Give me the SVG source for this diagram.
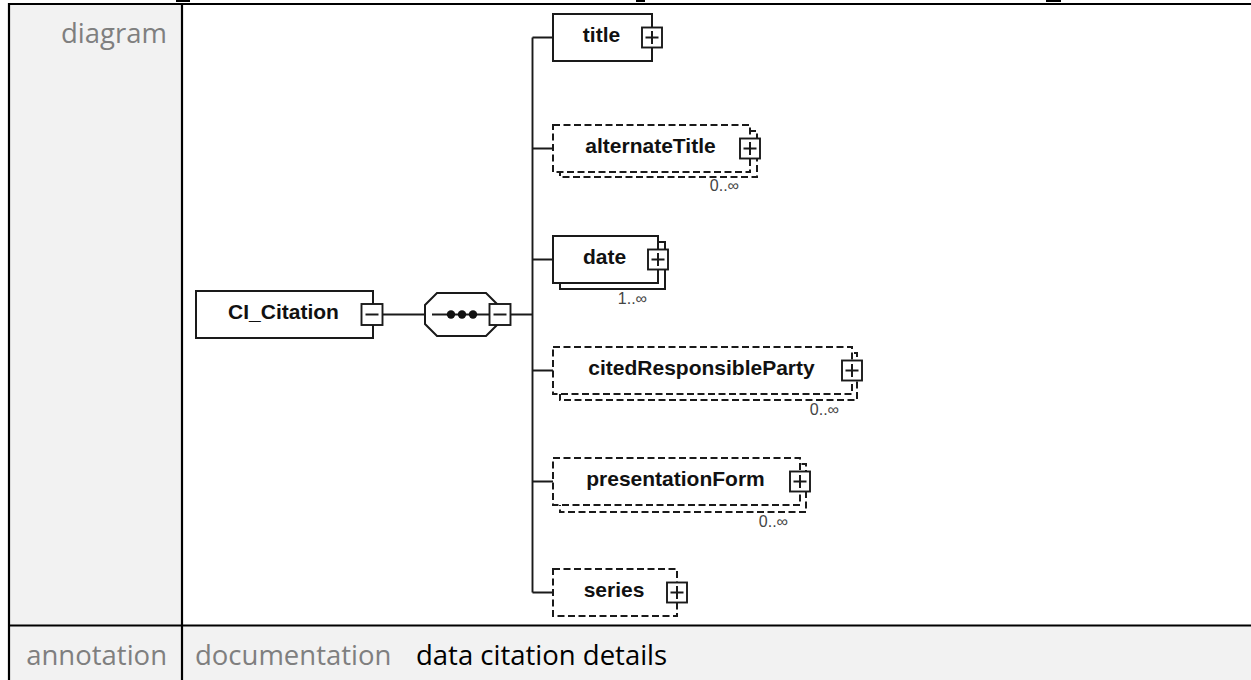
<svg xmlns="http://www.w3.org/2000/svg" width="1251" height="680" viewBox="0 0 1251 680">
<style>
.cell{fill:#f2f2f2}
.grid{stroke:#000;stroke-width:2.2;fill:none}
.hdr{font-family:"Open Sans","Noto Sans",sans-serif;font-size:27.5px;fill:#7f7f7f}
.val{font-family:"Open Sans","Noto Sans",sans-serif;font-size:27.5px;fill:#000}
.box{fill:#fff;stroke:#1a1a1a;stroke-width:2}
.dash{stroke-dasharray:7,3.5}
.lbl{font-family:"Liberation Sans",Arial,sans-serif;font-weight:bold;font-size:21px;fill:#111;text-anchor:middle}
.occ{font-family:"Liberation Sans",Arial,sans-serif;font-size:16px;fill:#444;text-anchor:end}
.btn{fill:#fff;stroke:#1a1a1a;stroke-width:1.9}
.sign{stroke:#1a1a1a;stroke-width:2;fill:none}
.con{stroke:#1a1a1a;stroke-width:1.9;fill:none}
</style>
<defs>
<g id="plus"><rect class="btn" x="-10" y="-10" width="20" height="20"/><path class="sign" d="M-6.5 0H6.5M0 -6.5V6.5"/></g>
<g id="minus"><rect class="btn" x="-10.5" y="-10.5" width="21" height="21"/><path class="sign" d="M-6.5 0H6.5"/></g>
</defs>
<rect width="1251" height="680" fill="#fff"/>
<g id="table">
<rect class="cell" x="9" y="5" width="173" height="620"/>
<rect class="cell" x="9" y="626" width="1242" height="54"/>
<path class="grid" d="M8 4H1251M9 3V680M182 4V680M8 625.5H1251"/>
<rect x="176" y="0" width="14" height="2" fill="#000"/>
<rect x="636" y="0" width="9" height="2" fill="#000"/>
<rect x="1046" y="0" width="15" height="2" fill="#000"/>
<text class="hdr" x="167" y="43" text-anchor="end">diagram</text>
<text class="hdr" x="167" y="665" text-anchor="end">annotation</text>
<text class="hdr" x="195" y="665">documentation</text>
<text class="val" x="416" y="665">data citation details</text>
</g>
<g id="connectors">
<path class="con" d="M383 314.5H425M511 314.5H532.5M532.5 37.5V592.5"/>
<path class="con" d="M532.5 37.5H553M532.5 148.5H553M532.5 259.5H553M532.5 370.5H553M532.5 481.5H553M532.5 592.5H553"/>
</g>
<g id="CI_Citation">
<rect class="box" x="196" y="291" width="177" height="47"/>
<text class="lbl" x="283.5" y="319">CI_Citation</text>
<use href="#minus" x="372" y="314.5"/>
</g>
<g id="sequence">
<polygon class="box" points="425,305 437,293 486,293 498,305 498,324 486,336 437,336 425,324"/>
<path class="con" d="M432 314.5H490"/>
<circle cx="451" cy="314.5" r="4.2" fill="#111"/>
<circle cx="462" cy="314.5" r="4.2" fill="#111"/>
<circle cx="473" cy="314.5" r="4.2" fill="#111"/>
<use href="#minus" x="500" y="314.5"/>
</g>
<g id="title">
<rect class="box" x="553" y="14" width="99" height="47"/>
<text class="lbl" x="601.5" y="42">title</text>
<use href="#plus" x="652" y="37.5"/>
</g>
<g id="alternateTitle">
<rect class="box dash" x="560" y="131" width="197" height="46"/>
<rect class="box dash" x="553" y="125" width="197" height="47"/>
<text class="lbl" x="650.5" y="153">alternateTitle</text>
<use href="#plus" x="750" y="148.5"/>
<text class="occ" x="739" y="191">0..∞</text>
</g>
<g id="date">
<rect class="box" x="560" y="242" width="105" height="47"/>
<rect class="box" x="553" y="236" width="105" height="47"/>
<text class="lbl" x="604.5" y="264">date</text>
<use href="#plus" x="658" y="259.5"/>
<text class="occ" x="647" y="304">1..∞</text>
</g>
<g id="citedResponsibleParty">
<rect class="box dash" x="560" y="353" width="297" height="47"/>
<rect class="box dash" x="553" y="347" width="299" height="47"/>
<text class="lbl" x="701.5" y="375">citedResponsibleParty</text>
<use href="#plus" x="852" y="370.5"/>
<text class="occ" x="839" y="415">0..∞</text>
</g>
<g id="presentationForm">
<rect class="box dash" x="560" y="464" width="246" height="48"/>
<rect class="box dash" x="553" y="458" width="247" height="47"/>
<text class="lbl" x="675.5" y="486">presentationForm</text>
<use href="#plus" x="800" y="481.5"/>
<text class="occ" x="788" y="527">0..∞</text>
</g>
<g id="series">
<rect class="box dash" x="553" y="569" width="124" height="47"/>
<text class="lbl" x="614" y="597">series</text>
<use href="#plus" x="677" y="592.5"/>
</g>
</svg>
